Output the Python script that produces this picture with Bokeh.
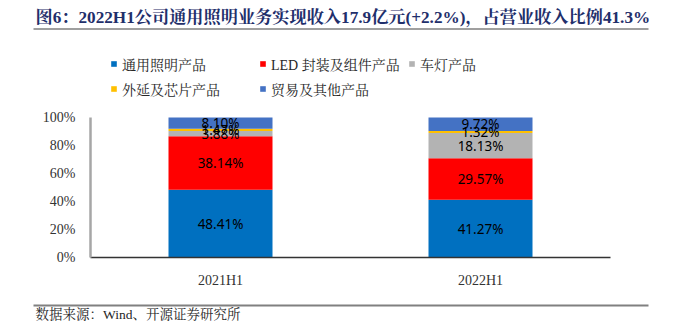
from bokeh.plotting import figure
from bokeh.layouts import column
from bokeh.models import ColumnDataSource, Label, Legend, LegendItem, FixedTicker, Range1d
from bokeh.embed import file_html
from bokeh.resources import INLINE
from bokeh.core.properties import value

# ---- data ----
categories = ["2021H1", "2022H1"]
series_names = ["通用照明产品", "LED 封装及组件产品", "车灯产品", "外延及芯片产品", "贸易及其他产品"]
general_lighting = [48.41, 41.27]
led_packaging = [38.14, 29.57]
auto_lamps = [3.88, 18.13]
epi_chips = [1.47, 1.32]
trade_other = [8.10, 9.72]
y_ticks = [0, 20, 40, 60, 80, 100]
y_tick_labels = ["0%", "20%", "40%", "60%", "80%", "100%"]
title_text = "图6：2022H1公司通用照明业务实现收入17.9亿元(+2.2%)，占营业收入比例41.3%"
source_text = "数据来源：Wind、开源证券研究所"

colors = ["#0070C0", "#FF0000", "#B3B3B3", "#FFC000", "#4472C4"]
series_values = [general_lighting, led_packaging, auto_lamps, epi_chips, trade_other]
keys = ["s%d" % i for i in range(len(series_values))]

SERIF = "'Liberation Serif', 'Times New Roman', 'Noto Serif CJK SC', 'Noto Sans CJK SC'"
W = 673


def style(f):
    f.outline_line_color = None
    f.xgrid.grid_line_color = None
    f.ygrid.grid_line_color = None
    f.background_fill_color = "white"
    f.border_fill_color = "white"
    f.frame_align = False
    return f


def blank(height, y0, y1):
    f = figure(width=W, height=height, x_range=(0, W), y_range=(y1, y0),
               output_backend="svg", toolbar_location=None,
               x_axis_location=None, y_axis_location=None,
               min_border=0, min_border_left=0, min_border_right=0,
               min_border_top=0, min_border_bottom=0)
    return style(f)


# ---- header: title and rule ----
head = blank(40, 0, 40)
head.add_layout(Label(x=35, y=17, text=title_text, text_font=SERIF, text_font_size="17.2px",
                      text_font_style="bold", text_color="#1F2F6B",
                      text_align="left", text_baseline="middle"))
head.segment(x0=[33], y0=[28.5], x1=[648], y1=[28.5], line_color="#404040", line_width=1.2)

# ---- main chart (frame extends above 100% to host the legend) ----
y_top = 100 * 217 / 140.0
p = figure(width=W, height=250, x_range=categories, y_range=Range1d(0, y_top),
           output_backend="svg", toolbar_location=None,
           min_border_left=90, min_border_right=63, min_border_top=0, min_border_bottom=33)
style(p)

data = dict(cat=categories)
for k, v in zip(keys, series_values):
    data[k] = v
src = ColumnDataSource(data)
rends = p.vbar_stack(keys, x="cat", width=0.4, color=colors, source=src, line_color=None)

lx, ly, lt = [], [], []
for ci, cat in enumerate(categories):
    base = 0.0
    for v in series_values:
        val = v[ci]
        lx.append(cat)
        ly.append(base + val / 2.0)
        lt.append("%.2f%%" % val)
        base += val
p.text(x=lx, y=ly, text=lt, text_align="center", text_baseline="middle",
       text_font=value("Noto Sans"), text_font_size="13.5px", text_color="#000000")

p.yaxis.bounds = (0, 100)
p.yaxis.ticker = FixedTicker(ticks=y_ticks)
p.yaxis.major_label_overrides = {t: l for t, l in zip(y_ticks, y_tick_labels)}
p.yaxis.axis_line_color = "#A6A6A6"
p.yaxis.axis_line_width = 2.5
p.yaxis.major_tick_line_color = None
p.yaxis.minor_tick_line_color = None
p.yaxis.major_label_standoff = 9
p.yaxis.major_label_text_font = SERIF
p.yaxis.major_label_text_font_size = "14px"
p.yaxis.major_label_text_color = "#333333"

p.xaxis.axis_line_color = "#333333"
p.xaxis.axis_line_width = 1.5
p.xaxis.major_tick_line_color = None
p.xaxis.minor_tick_line_color = None
p.xaxis.major_label_standoff = 9
p.xaxis.major_label_text_font = SERIF
p.xaxis.major_label_text_font_size = "14px"
p.xaxis.major_label_text_color = "#333333"

items = [LegendItem(label=n, renderers=[r]) for n, r in zip(series_names, rends)]
leg = Legend(items=items, orientation="horizontal", ncols=3, location=(20, 156),
             glyph_width=7, glyph_height=7, label_standoff=5, label_width=137,
             label_height=25, spacing=0, padding=0, margin=0,
             border_line_color=None, background_fill_alpha=0,
             label_text_font=SERIF, label_text_font_size="14px", label_text_color="#262626")
p.add_layout(leg, "center")

# ---- footer: rule and source ----
foot = blank(31, 290, 321)
foot.segment(x0=[33], y0=[305], x1=[648], y1=[305], line_color="#808080", line_width=2)
foot.add_layout(Label(x=35, y=313.5, text=source_text, text_font=SERIF, text_font_size="13.5px",
                      text_color="#262626", text_align="left", text_baseline="middle"))

layout = column(head, p, foot, spacing=0)
open("out.html", "w").write(file_html(layout, INLINE))
